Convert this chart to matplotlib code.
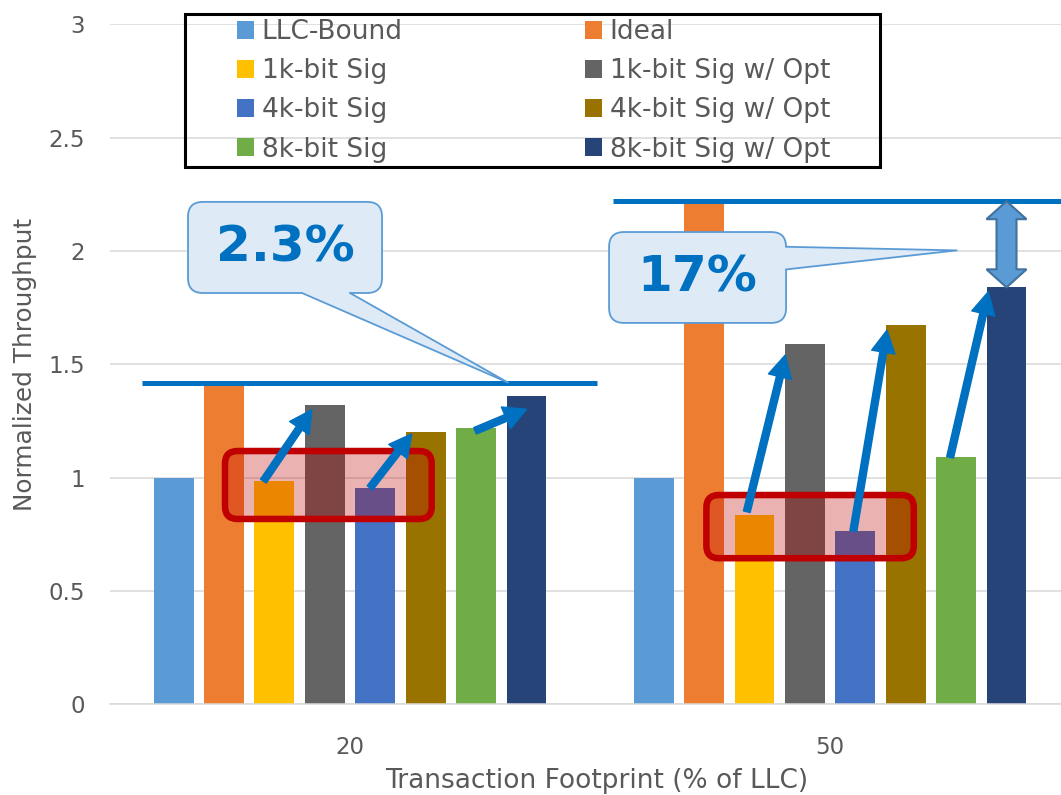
import numpy as np
import matplotlib.pyplot as plt
from matplotlib.patches import FancyBboxPatch, Polygon, Rectangle

# throughput normalised to the LLC-bound design
groups = ["20", "50"]
series = ["LLC-Bound", "Ideal", "1k-bit Sig", "1k-bit Sig w/ Opt",
          "4k-bit Sig", "4k-bit Sig w/ Opt", "8k-bit Sig", "8k-bit Sig w/ Opt"]
llc_bound = [1.0, 1.0]
ideal = [1.42, 2.22]
sig_1k = [0.985, 0.835]
sig_1k_opt = [1.32, 1.59]
sig_4k = [0.955, 0.765]
sig_4k_opt = [1.20, 1.675]
sig_8k = [1.22, 1.09]
sig_8k_opt = [1.36, 1.84]
gap_labels = ["2.3%", "17%"]

y_ticks = [0, 0.5, 1, 1.5, 2, 2.5, 3]
y_tick_labels = ["0", "0.5", "1", "1.5", "2", "2.5", "3"]

values = [llc_bound, ideal, sig_1k, sig_1k_opt, sig_4k, sig_4k_opt, sig_8k, sig_8k_opt]
colors = ["#5B9BD5", "#ED7D31", "#FFC000", "#646464",
          "#4472C4", "#997300", "#70AD47", "#264478"]

blue = "#0070C0"
grey_txt = "#595959"

fig = plt.figure(figsize=(10.61, 7.95), dpi=100)
ax = fig.add_axes([110 / 1061, 90.6 / 795, 951 / 1061, 680 / 795])

x = np.arange(len(groups))
width = 0.083
step = 0.105
bars = []
for i, vals in enumerate(values):
    b = ax.bar(x + (i - 3.5) * step, vals, width, color=colors[i],
               label=series[i], zorder=2)
    bars.append(b)

def bar_x(g, i):
    return x[g] + (i - 3.5) * step

ax.set_xlim(-0.5, 1.481)
ax.set_ylim(0, 3)
ax.set_yticks(y_ticks)
ax.set_yticklabels(y_tick_labels)
ax.set_xticks(x)
ax.set_xticklabels(groups)
ax.tick_params(axis="both", length=0, labelsize=16.5, labelcolor=grey_txt)
ax.tick_params(axis="y", pad=18)
ax.tick_params(axis="x", pad=23)
ax.yaxis.grid(True, color="#D9D9D9", lw=1.1)
ax.set_axisbelow(True)
for s in ["left", "right", "top"]:
    ax.spines[s].set_visible(False)
ax.spines["bottom"].set_color("#D9D9D9")
ax.spines["bottom"].set_linewidth(1.1)

ax.set_xlabel("Transaction Footprint (% of LLC)", fontsize=19, color=grey_txt, labelpad=6)
ax.xaxis.label.set_x(0.512)
ax.set_ylabel("Normalized Throughput", fontsize=17.8, color=grey_txt, labelpad=8)

# ideal throughput level of each group
ax.plot([-0.434, 0.514], [ideal[0], ideal[0]], color=blue, lw=3.6,
        solid_capstyle="butt", zorder=4)
ax.plot([0.548, 1.481], [ideal[1], ideal[1]], color=blue, lw=3.6,
        solid_capstyle="butt", zorder=4, clip_on=False)

asp = 480 / 226.7  # y-units per x-unit in pixels ratio

# red highlight around the plain signature bars
for (x0, x1, y0, y1) in [(-0.2604, 0.1702, 0.8181, 1.1178),
                         (0.7423, 1.1744, 0.645, 0.9237)]:
    ax.add_patch(FancyBboxPatch((x0, y0), x1 - x0, y1 - y0,
                                boxstyle="round,pad=0,rounding_size=0.026",
                                mutation_aspect=asp, fc=(0.75, 0, 0, 0.3),
                                ec="#C00000", lw=4.7, zorder=3))

# arrows from plain signature to the optimised one
arrows = [(0, 2, 3, -0.023, 0.0, -0.027, -0.02),
          (0, 4, 5, -0.011, 0.0, -0.029, -0.007),
          (0, 6, 7, -0.002, -0.013, 0.0, -0.058),
          (1, 2, 3, -0.016, 0.015, -0.041, -0.049),
          (1, 4, 5, -0.004, 0.0, -0.039, -0.024),
          (1, 6, 7, -0.0125, 0.0, -0.038, -0.02)]
for g, i0, i1, dx0, dy0, dx1, dy1 in arrows:
    ax.annotate("", xy=(bar_x(g, i1) + dx1, values[i1][g] + dy1),
                xytext=(bar_x(g, i0) + dx0, values[i0][g] + dy0),
                arrowprops=dict(arrowstyle="simple,head_length=1.6,head_width=1.7,tail_width=0.5",
                                mutation_scale=10, color=blue, shrinkA=0, shrinkB=0),
                zorder=5)

# double arrow between best design and ideal at 50%
cx = bar_x(1, 7)
bot, top = sig_8k_opt[1], ideal[1]
hl, hw, sw = 0.0794, 0.0417, 0.0208
pts = [(cx, top), (cx + hw, top - hl), (cx + sw, top - hl), (cx + sw, bot + hl),
       (cx + hw, bot + hl), (cx, bot), (cx - hw, bot + hl), (cx - sw, bot + hl),
       (cx - sw, top - hl), (cx - hw, top - hl)]
ax.add_patch(Polygon(pts, closed=True, fc="#5B9BD5", ec="#41719C", lw=1.5, zorder=5))

# callouts
call_fc = "#DEEBF7"
call_ec = "#5B9BD5"

def callout(box, base, tip, text):
    x0, x1, y0, y1 = box
    ax.add_patch(FancyBboxPatch((x0, y0), x1 - x0, y1 - y0,
                                boxstyle="round,pad=0,rounding_size=0.031",
                                mutation_aspect=asp, fc=call_fc, ec=call_ec,
                                lw=1.3, zorder=6))
    (bx0, by0), (bx1, by1), (bx0i, by0i), (bx1i, by1i) = base
    ax.add_patch(Polygon([(bx0i, by0i), (bx0, by0), tip, (bx1, by1), (bx1i, by1i)],
                         closed=True, fc=call_fc, ec="none", zorder=7))
    ax.plot([bx0, tip[0], bx1], [by0, tip[1], by1], color=call_ec, lw=1.3, zorder=7)
    ax.text((x0 + x1) / 2, (y0 + y1) / 2, text, ha="center", va="center",
            fontsize=36, fontweight="bold", color=blue, zorder=8)

callout((-0.3375, 0.0667, 1.815, 2.217),
        [(-0.1, 1.815), (0.0, 1.815), (-0.1, 1.83), (0.0, 1.83)],
        (0.329, ideal[0]), gap_labels[0])
callout((0.5396, 0.9083, 1.683, 2.084),
        [(0.9083, 2.019), (0.9083, 1.919), (0.9, 2.019), (0.9, 1.919)],
        (1.2639, 2.003), gap_labels[1])

# legend, two columns inside a black frame
order = [0, 2, 4, 6, 1, 3, 5, 7]
leg = fig.legend([bars[k] for k in order], [series[k] for k in order],
                 ncol=2, loc="upper left", bbox_to_anchor=(237 / 1061, 1 - 19 / 795),
                 frameon=False, fontsize=19, labelcolor=grey_txt, borderpad=0,
                 borderaxespad=0, handlelength=0.66, handleheight=0.66,
                 handletextpad=0.28, labelspacing=0.5, columnspacing=6.9)
fig.patches.append(Rectangle((184.5 / 1061, 1 - 166.5 / 795), 696 / 1061, 153 / 795,
                             transform=fig.transFigure, fill=False, ec="black", lw=2.2))

fig.savefig("out.png", dpi=100)
